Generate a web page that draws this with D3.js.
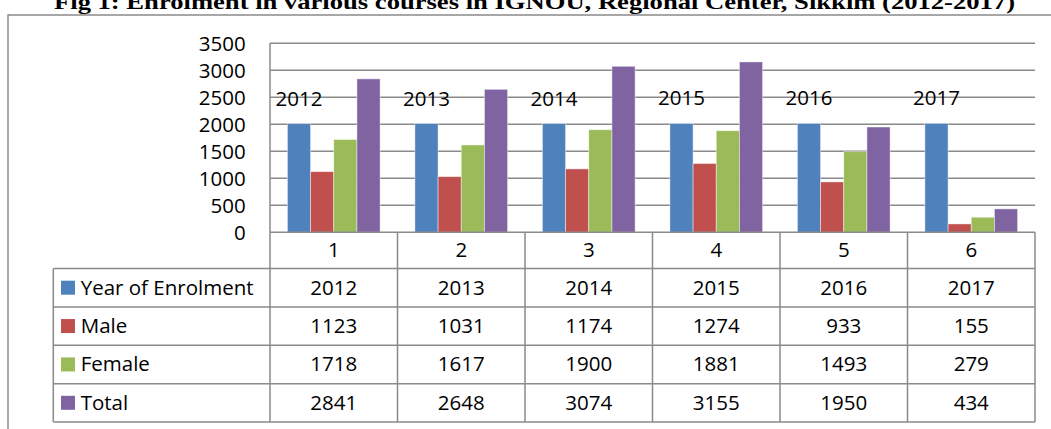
<!DOCTYPE html>
<html>
<head>
<meta charset="utf-8">
<script src="https://cdn.jsdelivr.net/npm/d3@7"></script>
<style>
  html, body { margin: 0; padding: 0; background: #fff; }
  svg { display: block; }
  text { font-family: "Open Sans", "Noto Sans", sans-serif; fill: #000; }
</style>
</head>
<body>
<svg id="chart" width="1051" height="429"></svg>
<script>
const titleText = "Fig 1: Enrolment in various courses in IGNOU, Regional Center, Sikkim (2012-2017)";
const categories = ["1", "2", "3", "4", "5", "6"];
const seriesNames = ["Year of Enrolment", "Male", "Female", "Total"];
const yearOfEnrolment = [2012, 2013, 2014, 2015, 2016, 2017];
const male = [1123, 1031, 1174, 1274, 933, 155];
const female = [1718, 1617, 1900, 1881, 1493, 279];
const total = [2841, 2648, 3074, 3155, 1950, 434];
const yTicks = [0, 500, 1000, 1500, 2000, 2500, 3000, 3500];
const colors = ["#4F81BD", "#C0504D", "#9BBB59", "#8064A2"];

const seriesValues = [yearOfEnrolment, male, female, total];

const svg = d3.select("#chart");
const lineColor = "#8a8a8a";
const fs = "20.5px";

// layout
const plotLeft = 270, plotRight = 1035, plotTop = 43.3, plotBottom = 232.3;
const tableLeft = 53.3, catRowBottom = 268.5, tableBottom = 422;
const rowH = (tableBottom - catRowBottom) / 4;

const y = d3.scaleLinear().domain([0, 3500]).range([plotBottom, plotTop]);
const x0 = d3.scaleBand().domain(categories).range([plotLeft, plotRight])
  .paddingInner(0.273).paddingOuter(0.1365);
const x1 = d3.scaleBand().domain(seriesNames).range([0, x0.bandwidth()]);

// title (cut at top, as in the reference)
svg.append("text")
  .attr("x", 534.5).attr("y", 8.5)
  .attr("text-anchor", "middle")
  .style("font-family", "'Liberation Serif', 'Times New Roman', serif")
  .style("font-weight", "bold")
  .style("font-size", "22px")
  .attr("textLength", 961)
  .attr("lengthAdjust", "spacingAndGlyphs")
  .text(titleText);

// outer border (left and top visible)
svg.append("path")
  .attr("d", `M8,440 V15 H1060`)
  .attr("fill", "none").attr("stroke", lineColor).attr("stroke-width", 1.5);

// gridlines
svg.append("g").selectAll("line").data(yTicks.filter(d => d > 0)).join("line")
  .attr("x1", plotLeft).attr("x2", plotRight)
  .attr("y1", d => y(d)).attr("y2", d => y(d))
  .attr("stroke", lineColor).attr("stroke-width", 1.5);

// y axis labels
const yAxis = d3.axisLeft(y).tickValues(yTicks).tickSize(0).tickPadding(0).tickFormat(d3.format("d"));
const gy = svg.append("g").attr("transform", `translate(${245.7},0)`).call(yAxis);
gy.select(".domain").remove();
gy.selectAll("text")
  .style("font-family", "'Open Sans', sans-serif")
  .style("font-size", fs)
  .attr("fill", "#000")
  .attr("dy", "0.36em");

// bars
const groups = svg.append("g").selectAll("g").data(categories).join("g")
  .attr("transform", d => `translate(${x0(d)},0)`);
groups.selectAll("rect")
  .data((c, i) => seriesNames.map((s, k) => ({ s, k, v: seriesValues[k][i] })))
  .join("rect")
  .attr("x", d => x1(d.s))
  .attr("width", x1.bandwidth())
  .attr("y", d => y(d.v))
  .attr("height", d => y(0) - y(d.v))
  .attr("fill", d => colors[d.k])
  .attr("stroke", "rgba(255,255,255,0.55)")
  .attr("stroke-width", 0.8);

// data labels above Year of Enrolment bars
svg.append("g").selectAll("text").data(categories).join("text")
  .attr("x", (c) => x0(c) + x1(seriesNames[0]) + x1.bandwidth() / 2)
  .attr("y", (c, i) => y(yearOfEnrolment[i]) - 18)
  .attr("text-anchor", "middle")
  .style("font-size", fs)
  .text((c, i) => yearOfEnrolment[i]);

// table lines
const tl = svg.append("g").attr("stroke", lineColor).attr("stroke-width", 1.5).attr("fill", "none");
tl.append("line").attr("x1", plotLeft).attr("x2", plotLeft).attr("y1", plotTop).attr("y2", tableBottom);
tl.append("line").attr("x1", plotLeft).attr("x2", plotRight).attr("y1", y(0)).attr("y2", y(0));
const bounds = categories.map(c => x0(c) - x0.step() * x0.paddingOuter()).concat([plotRight]);
tl.selectAll(".vb").data(bounds.slice(1)).join("line")
  .attr("x1", d => d).attr("x2", d => d).attr("y1", y(0)).attr("y2", tableBottom);
tl.append("line").attr("x1", tableLeft).attr("x2", tableLeft).attr("y1", catRowBottom).attr("y2", tableBottom);
tl.selectAll(".hr").data(d3.range(5)).join("line")
  .attr("x1", tableLeft).attr("x2", plotRight)
  .attr("y1", i => catRowBottom + i * rowH).attr("y2", i => catRowBottom + i * rowH);

// category labels
svg.append("g").selectAll("text").data(categories).join("text")
  .attr("x", c => x0(c) + x0.bandwidth() / 2)
  .attr("y", (y(0) + catRowBottom) / 2 + 7)
  .attr("text-anchor", "middle")
  .style("font-size", fs)
  .text(c => c);

// table rows
seriesNames.forEach((s, k) => {
  const cy = catRowBottom + k * rowH + rowH / 2;
  svg.append("rect")
    .attr("x", 61).attr("y", cy - 7).attr("width", 14).attr("height", 14)
    .attr("fill", colors[k]);
  svg.append("text")
    .attr("x", 80.7).attr("y", cy + 7)
    .style("font-size", fs)
    .text(s);
  svg.append("g").selectAll("text").data(categories).join("text")
    .attr("x", c => x0(c) + x0.bandwidth() / 2)
    .attr("y", cy + 7)
    .attr("text-anchor", "middle")
    .style("font-size", fs)
    .text((c, i) => seriesValues[k][i]);
});
</script>
</body>
</html>
